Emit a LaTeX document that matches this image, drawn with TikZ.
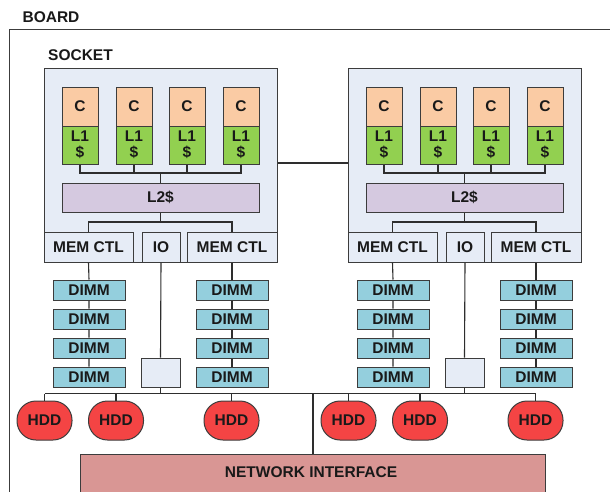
\documentclass[tikz,border=0pt]{standalone}
\usepackage{fontspec}
\setmainfont{Liberation Sans}
\definecolor{edge}{HTML}{3C3C3C}
\definecolor{wire}{HTML}{2E2E2E}
\definecolor{sockfill}{HTML}{E6ECF6}
\definecolor{corefill}{HTML}{FACBA4}
\definecolor{lonefill}{HTML}{92D050}
\definecolor{ltwofill}{HTML}{D5C9E0}
\definecolor{dimmfill}{HTML}{94CFDD}
\definecolor{hddfill}{HTML}{F44444}
\definecolor{nicfill}{HTML}{D99694}
\tikzset{
  lbl/.style={font=\bfseries\fontsize{15.5}{17}\selectfont, text=black!90},
  box/.style={draw=edge, line width=1pt, inner sep=0pt, lbl, align=center},
  sockbox/.style={box, fill=sockfill},
  corebox/.style={box, fill=corefill, minimum width=36, minimum height=39},
  lonebox/.style={box, fill=lonefill, minimum width=36, minimum height=38},
  ltwobox/.style={box, fill=ltwofill, minimum width=197, minimum height=29},
  ctlbox/.style={box, fill=sockfill, minimum height=30},
  dimmbox/.style={box, fill=dimmfill, minimum width=72, minimum height=20},
  iobox/.style={box, fill=sockfill, minimum width=39, minimum height=29},
  hddbox/.style={box, fill=hddfill, minimum width=55, minimum height=39, rounded corners=19},
  nicbox/.style={box, fill=nicfill},
  wires/.style={draw=wire, line width=1.1pt}
}
% One socket with its memory, IO bridge and disks; #1 = name prefix, #2 = x offset
\newcommand\drawsocket[2]{%
\begin{scope}[xshift=#2]
  \node[sockbox, minimum width=233, minimum height=194] (#1sock) at (160.5,165) {};
  \foreach \n/\x in {a/80,b/134,c/187,d/241}{
    \node[corebox] (#1c\n) at (\x,106.5) {C};
    \node[lonebox] (#1l\n) at (\x,145) {L1\\[-1pt]\$};
  }
  \node[ltwobox] (#1ltwo) at (160.5,197.5) {L2\$};
  \coordinate (#1busA) at (160.5,173);
  \coordinate (#1busB) at (160.5,222);
  \node[ctlbox, minimum width=89] (#1mcl) at (88.5,247) {MEM CTL};
  \node[ctlbox, minimum width=38] (#1io) at (161,247) {IO};
  \node[ctlbox, minimum width=90] (#1mcr) at (232,247) {MEM CTL};
  \foreach \n/\y in {a/290,b/319,c/348,d/377}{
    \node[dimmbox] (#1dl\n) at (89,\y) {DIMM};
    \node[dimmbox] (#1dr\n) at (232,\y) {DIMM};
  }
  \node[iobox] (#1iob) at (160.5,372.5) {};
  \coordinate (#1busC) at (160.5,393.5);
  \node[hddbox] (#1ha) at (44.5,420.5) {HDD};
  \node[hddbox] (#1hb) at (116,420.5) {HDD};
  \node[hddbox] (#1hc) at (231.5,420.5) {HDD};
  % cores to L2
  \draw[wires] (#1la.south) -- (#1la.south |- #1busA) -- (#1ld.south |- #1busA) -- (#1ld.south);
  \draw[wires] (#1lb.south) -- (#1lb.south |- #1busA);
  \draw[wires] (#1lc.south) -- (#1lc.south |- #1busA);
  \draw[wires] (#1ltwo.north) -- (#1busA);
  % L2 to memory controllers
  \draw[wires] (#1ltwo.south) -- (#1busB);
  \draw[wires] (#1mcl.north) |- (#1busB) -| (#1mcr.north);
  % memory channels
  \draw[wires] (#1mcl.south) -- (#1dla.north) (#1dla.south) -- (#1dlb.north)
               (#1dlb.south) -- (#1dlc.north) (#1dlc.south) -- (#1dld.north);
  \draw[wires] (#1mcr.south) -- (#1dra.north) (#1dra.south) -- (#1drb.north)
               (#1drb.south) -- (#1drc.north) (#1drc.south) -- (#1drd.north);
  % IO path to disks
  \draw[wires] (#1io.south) -- (#1iob.north);
  \draw[wires] (#1iob.south) -- (#1busC);
  \draw[wires] (#1ha.north) -- (#1ha.north |- #1busC);
  \draw[wires] (#1hb.north) -- (#1hb.north |- #1busC);
  \draw[wires] (#1hc.north) -- (#1hc.north |- #1busC);
\end{scope}}

\begin{document}
\begin{tikzpicture}[x=1pt,y=-1pt]
  \useasboundingbox (0,0) rectangle (610,491);
  \fill[white] (0,0) rectangle (610,491);
  % board outline runs off the right and bottom edges
  \node[draw=edge, line width=1pt, minimum width=620, minimum height=480, anchor=north west, inner sep=0pt] (board) at (9,29) {};
  \node[lbl] (boardtxt) at (51,17) {BOARD};
  \node[lbl] (socktxt) at (80.5,55) {SOCKET};
  \drawsocket{L}{0}
  \drawsocket{R}{304}
  % socket interconnect
  \draw[wires] (Lsock.east |- 0,163) -- (Rsock.west |- 0,163);
  % network interface and shared disk bus
  \node[nicbox, minimum width=465, minimum height=44] (nic) at (312.5,476) {};
  \node[lbl] (nictxt) at (311,472) {NETWORK INTERFACE};
  \coordinate (join) at (313,393.5);
  \draw[wires] (Lha.north |- LbusC) -- (join) -- (Rhc.north |- RbusC);
  \draw[wires] (join) -- (nic.north -| join);
\end{tikzpicture}
\end{document}
